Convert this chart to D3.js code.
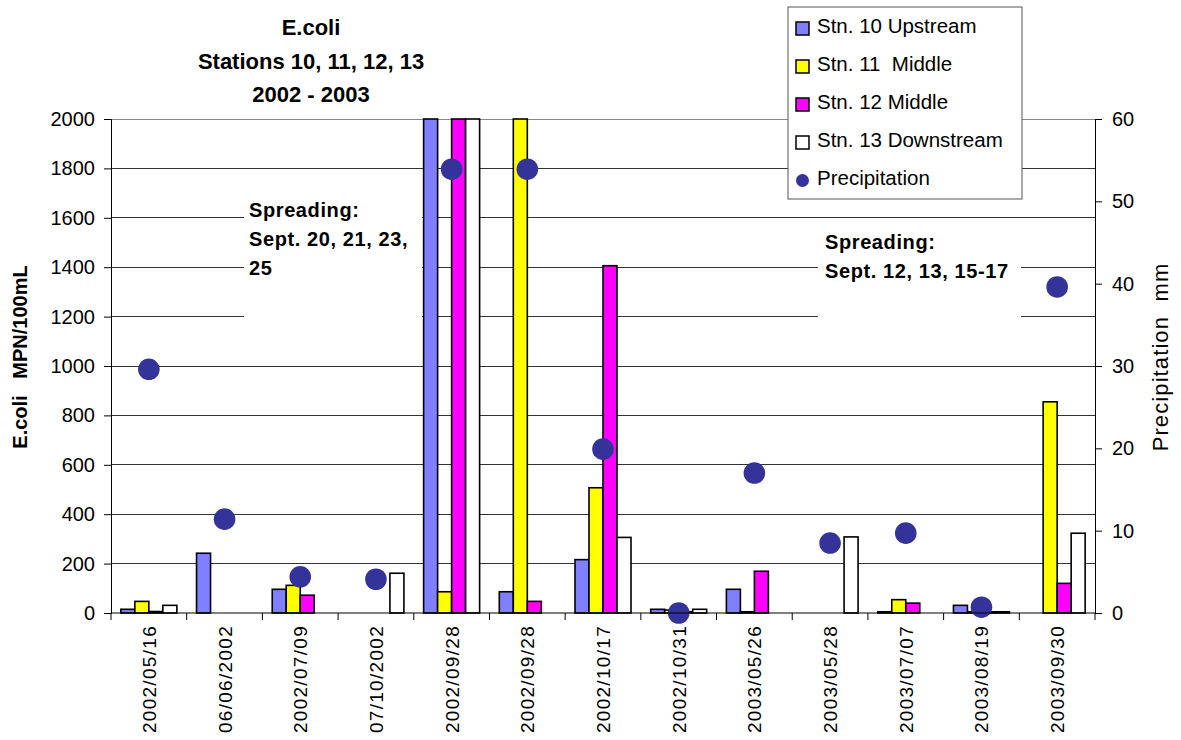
<!DOCTYPE html>
<html>
<head>
<meta charset="utf-8">
<script src="https://cdn.jsdelivr.net/npm/d3@7"></script>
<style>
  html, body { margin: 0; padding: 0; background: #fff; }
  svg { display: block; font-family: Arial, "Liberation Sans", sans-serif; }
</style>
</head>
<body>
<svg id="chart" width="1181" height="740"></svg>
<script>
// Sampling dates (two separate samples on 2002/09/28)
const categories = ["2002/05/16", "06/06/2002", "2002/07/09", "07/10/2002", "2002/09/28", "2002/09/28",
  "2002/10/17", "2002/10/31", "2003/05/26", "2003/05/28", "2003/07/07", "2003/08/19", "2003/09/30"];

// E.coli, MPN/100mL (values above 2000 are shown clipped at the axis maximum)
const stn10 = [15, 242, 96, 0, 2000, 86, 216, 15, 96, 0, 5, 31, 0];
const stn11 = [47, 0, 112, 0, 86, 2000, 507, 12, 5, 0, 54, 5, 855];
const stn12 = [6, 0, 72, 0, 2000, 47, 1406, 5, 169, 0, 40, 5, 120];
const stn13 = [31, 0, 0, 161, 2000, 0, 306, 15, 0, 308, 0, 5, 323];

// Precipitation, mm
const precip = [29.6, 11.4, 4.4, 4.1, 53.9, 53.9, 19.9, 0, 17, 8.5, 9.7, 0.7, 39.6];

const seriesNames = ["Stn. 10 Upstream", "Stn. 11  Middle", "Stn. 12 Middle", "Stn. 13 Downstream"];
const seriesColors = ["#8080FF", "#FFFF00", "#FF00FF", "#FFFFFF"];
const leftTicks = [0, 200, 400, 600, 800, 1000, 1200, 1400, 1600, 1800, 2000];
const rightTicks = [0, 10, 20, 30, 40, 50, 60];

const series = [stn10, stn11, stn12, stn13];

const svg = d3.select("#chart");
const plot = { left: 111, right: 1095, top: 119, bottom: 613 };

const x0 = d3.scaleBand().domain(d3.range(categories.length)).range([plot.left, plot.right]).padding(0);
const groupHalf = 28;
const x1 = d3.scaleBand().domain(d3.range(series.length)).range([-groupHalf, groupHalf]).padding(0);
const yL = d3.scaleLinear().domain([0, 2000]).range([plot.bottom, plot.top]);
const yR = d3.scaleLinear().domain([0, 60]).range([plot.bottom, plot.top]);

// Horizontal gridlines
svg.append("g").selectAll("line").data(leftTicks.slice(1)).join("line")
  .attr("x1", plot.left).attr("x2", plot.right)
  .attr("y1", d => yL(d)).attr("y2", d => yL(d))
  .attr("stroke", d => d === 2000 ? "#888" : "#333").attr("stroke-width", 1)
  .attr("shape-rendering", "crispEdges");

// Annotation text boxes (opaque, hide the gridlines behind them)
const notes = [
  { x: 244, y: 195, w: 178, h: 140, lines: ["Spreading:", "Sept. 20, 21, 23,", "25"], tx: 249, ty: 217 },
  { x: 818, y: 226, w: 203, h: 112, lines: ["Spreading:", "Sept. 12, 13, 15-17"], tx: 825, ty: 249 }
];
notes.forEach(n => {
  svg.append("rect").attr("x", n.x).attr("y", n.y).attr("width", n.w).attr("height", n.h).attr("fill", "#fff");
  svg.append("text").attr("x", n.tx).attr("y", n.ty)
    .attr("font-size", 20).attr("font-weight", "bold").attr("letter-spacing", 0.6)
    .selectAll("tspan").data(n.lines).join("tspan")
    .attr("x", n.tx).attr("dy", (d, i) => i === 0 ? 0 : 29).text(d => d);
});

// Bars
const barData = [];
categories.forEach((c, i) => series.forEach((s, j) => {
  if (s[i] > 0) barData.push({ i, j, v: s[i] });
}));
svg.append("g").selectAll("rect").data(barData).join("rect")
  .attr("x", d => x0(d.i) + x0.bandwidth() / 2 + x1(d.j))
  .attr("y", d => yL(d.v))
  .attr("width", x1.bandwidth())
  .attr("height", d => plot.bottom - yL(d.v))
  .attr("fill", d => seriesColors[d.j])
  .attr("stroke", "#000").attr("stroke-width", 1.6);

// Precipitation markers
svg.append("g").selectAll("circle").data(precip).join("circle")
  .attr("cx", (d, i) => x0(i) + x0.bandwidth() / 2)
  .attr("cy", d => yR(d))
  .attr("r", 10.8)
  .attr("fill", "#333399");

// Left axis
const axisL = svg.append("g").attr("transform", `translate(${plot.left},0)`)
  .call(d3.axisLeft(yL).tickValues(leftTicks).tickFormat(d3.format("d")).tickSize(7).tickPadding(9));
axisL.select(".domain").attr("stroke", "#000");
axisL.selectAll("text").attr("font-size", 20).attr("fill", "#000").attr("font-family", "Arial, 'Liberation Sans', sans-serif");

// Right axis
const axisR = svg.append("g").attr("transform", `translate(${plot.right},0)`)
  .call(d3.axisRight(yR).tickValues(rightTicks).tickFormat(d3.format("d")).tickSize(7).tickPadding(10));
axisR.select(".domain").attr("stroke", "#000");
axisR.selectAll("text").attr("font-size", 20).attr("fill", "#000").attr("font-family", "Arial, 'Liberation Sans', sans-serif");

// Bottom axis: ticks between categories, rotated date labels
const bottom = svg.append("g");
bottom.append("line").attr("x1", plot.left).attr("x2", plot.right)
  .attr("y1", plot.bottom).attr("y2", plot.bottom).attr("stroke", "#000");
bottom.selectAll("line.sep").data(d3.range(categories.length + 1)).join("line").attr("class", "sep")
  .attr("x1", i => plot.left + i * x0.step()).attr("x2", i => plot.left + i * x0.step())
  .attr("y1", plot.bottom).attr("y2", plot.bottom + 7).attr("stroke", "#000");
bottom.selectAll("text").data(categories).join("text")
  .attr("transform", (d, i) => `translate(${x0(i) + x0.bandwidth() / 2 + 7},${plot.bottom + 12}) rotate(-90)`)
  .attr("text-anchor", "end")
  .attr("font-size", 19).attr("letter-spacing", 1.3)
  .text(d => d);

// Axis titles
svg.append("text").attr("transform", "translate(27,357) rotate(-90)")
  .attr("text-anchor", "middle").attr("font-size", 20).attr("font-weight", "bold")
  .style("white-space", "pre")
  .text("E.coli   MPN/100mL");
svg.append("text").attr("transform", "translate(1168,357) rotate(-90)")
  .attr("text-anchor", "middle").attr("font-size", 22).attr("letter-spacing", 1.1)
  .style("white-space", "pre")
  .text("Precipitation  mm");

// Title
const titleLines = ["E.coli", "Stations 10, 11, 12, 13", "2002 - 2003"];
svg.append("text").attr("text-anchor", "middle").attr("font-size", 22).attr("font-weight", "bold")
  .selectAll("tspan").data(titleLines).join("tspan")
  .attr("x", 311).attr("y", (d, i) => 35 + i * 33.5).text(d => d);

// Legend
const legend = svg.append("g");
legend.append("rect").attr("x", 788).attr("y", 7).attr("width", 234).attr("height", 192)
  .attr("fill", "#fff").attr("stroke", "#555").attr("stroke-width", 1);
const legendItems = seriesNames.map((n, j) => ({ name: n, color: seriesColors[j], type: "bar" }))
  .concat([{ name: "Precipitation", color: "#333399", type: "dot" }]);
const li = legend.selectAll("g").data(legendItems).join("g")
  .attr("transform", (d, i) => `translate(0,${i * 38})`);
li.filter(d => d.type === "bar").append("rect")
  .attr("x", 796).attr("y", 22).attr("width", 13).attr("height", 13)
  .attr("fill", d => d.color).attr("stroke", "#000").attr("stroke-width", 1.5);
li.filter(d => d.type === "dot").append("circle")
  .attr("cx", 802.5).attr("cy", 28.5).attr("r", 6.5).attr("fill", d => d.color);
li.append("text").attr("x", 817).attr("y", 32.5).attr("font-size", 20.5)
  .style("white-space", "pre").text(d => d.name);
</script>
</body>
</html>
